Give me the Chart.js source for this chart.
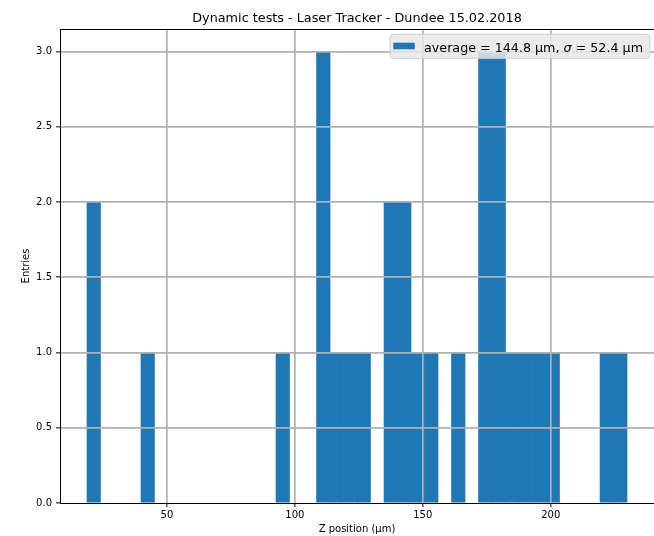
<!DOCTYPE html>
<html>
<head>
<meta charset="utf-8">
<script src="https://cdn.jsdelivr.net/npm/chart.js@4/dist/chart.umd.min.js"></script>
<style>
  html, body { margin: 0; padding: 0; background: #fff; }
  #wrap { width: 654px; height: 536px; position: relative; }
</style>
</head>
<body>
<div id="wrap"><canvas id="c"></canvas></div>
<script>
// Histogram bin centres (Z position, µm) and entries per bin
const binCenters = [21.41, 26.68, 31.96, 37.24, 42.51, 47.79, 53.07, 58.34, 63.62, 68.89,
                    74.17, 79.45, 84.72, 90.00, 95.27, 100.55, 105.83, 111.10, 116.38, 121.65,
                    126.93, 132.21, 137.48, 142.76, 148.03, 153.31, 158.59, 163.86, 169.14, 174.41,
                    179.69, 184.97, 190.24, 195.52, 200.79, 206.07, 211.35, 216.62, 221.90, 227.17];
const counts = [2, 0, 0, 0, 1, 0, 0, 0, 0, 0,
                0, 0, 0, 0, 1, 0, 0, 3, 1, 1,
                1, 0, 2, 2, 1, 1, 0, 1, 0, 3,
                3, 1, 1, 1, 1, 0, 0, 0, 1, 1];
const xTicks = [50, 100, 150, 200];
const yTicks = [0, 0.5, 1.0, 1.5, 2.0, 2.5, 3.0];
const xRange = [8.22, 240.35];
const yRange = [0, 3.15];
const seriesLabel = 'average = 144.8 µm, σ = 52.4 µm';
const titleText = 'Dynamic tests - Laser Tracker - Dundee 15.02.2018';
const xTitle = 'Z position (µm)';
const yTitle = 'Entries';

Chart.defaults.font.family = "'DejaVu Sans', sans-serif";
Chart.defaults.color = '#000';

const BAR_COLOR = '#1f77b4';
const GRID_COLOR = '#b0b0b0';

const insideLegend = {
  id: 'insideLegend',
  afterDraw(chart) {
    const ctx = chart.ctx;
    const area = chart.chartArea;
    const label = chart.data.datasets[0].label;
    const size = 12.7;
    const normal = size + "px 'DejaVu Sans', sans-serif";
    const italic = 'italic ' + size + "px 'DejaVu Sans', sans-serif";
    const idx = label.indexOf('σ');
    const parts = [[label.slice(0, idx), normal], ['σ', italic], [label.slice(idx + 1), normal]];
    ctx.save();
    let tw = 0;
    parts.forEach(p => { ctx.font = p[1]; tw += ctx.measureText(p[0]).width; });
    const padL = 3.3, patchW = 21.4, gap = 9.3, padR = 7;
    const w = padL + patchW + gap + tw + padR;
    const h = 24;
    const right = area.right - 4;
    const left = right - w;
    const top = area.top + 5.3;
    ctx.beginPath();
    if (ctx.roundRect) ctx.roundRect(left, top, w, h, 3); else ctx.rect(left, top, w, h);
    ctx.fillStyle = 'rgba(232,232,232,0.85)';
    ctx.fill();
    ctx.lineWidth = 1;
    ctx.strokeStyle = '#cfcfcf';
    ctx.stroke();
    ctx.fillStyle = BAR_COLOR;
    ctx.fillRect(left + padL, top + 8.4, patchW, 6.6);
    ctx.fillStyle = '#000';
    ctx.textBaseline = 'alphabetic';
    ctx.textAlign = 'left';
    let x = left + padL + patchW + gap;
    const base = top + 17.4;
    parts.forEach(p => {
      ctx.font = p[1];
      ctx.fillText(p[0], x, base);
      x += ctx.measureText(p[0]).width;
    });
    ctx.restore();
  }
};

new Chart(document.getElementById('c'), {
  type: 'bar',
  data: {
    datasets: [{
      label: seriesLabel,
      data: binCenters.map((c, i) => ({ x: c, y: counts[i] })),
      backgroundColor: ctx => (ctx.raw && ctx.raw.y > 0) ? BAR_COLOR : 'rgba(0,0,0,0)',
      borderWidth: 0,
      barPercentage: 1.0,
      categoryPercentage: 1.0
    }]
  },
  options: {
    responsive: true,
    maintainAspectRatio: false,
    animation: false,
    devicePixelRatio: 1,
    layout: { padding: 0 },
    plugins: {
      legend: { display: false },
      tooltip: { enabled: false },
      title: {
        display: true,
        fullSize: false,
        text: titleText,
        color: '#000',
        font: { size: 12.8, weight: 'normal' },
        padding: { top: 10.5, bottom: 3.14 }
      }
    },
    scales: {
      x: {
        type: 'linear',
        position: 'bottom',
        min: xRange[0],
        max: xRange[1],
        offset: false,
        afterBuildTicks: s => { s.ticks = xTicks.map(v => ({ value: v })); },
        afterFit: s => { s.height = 33; },
        ticks: {
          font: { size: 10 },
          padding: 2,
          maxRotation: 0,
          autoSkip: false,
          callback: v => String(v)
        },
        grid: {
          offset: false,
          color: GRID_COLOR,
          lineWidth: 1.7,
          z: 1,
          drawTicks: true,
          tickLength: 4,
          tickColor: '#000',
          tickWidth: 1
        },
        border: { display: true, color: '#000', width: 1, z: 2 },
        title: {
          display: true,
          text: xTitle,
          font: { size: 10 },
          padding: { top: 0, bottom: 1 }
        }
      },
      x2: {
        type: 'linear',
        position: 'top',
        min: xRange[0],
        max: xRange[1],
        afterFit: s => { s.height = 0; },
        ticks: { display: false },
        grid: { display: false, drawTicks: false },
        border: { display: true, color: '#000', width: 1, z: 2 }
      },
      y: {
        type: 'linear',
        position: 'left',
        min: yRange[0],
        max: yRange[1],
        afterBuildTicks: s => { s.ticks = yTicks.map(v => ({ value: v })); },
        afterFit: s => { s.width = 60; },
        ticks: {
          font: { size: 10 },
          padding: 4,
          autoSkip: false,
          callback: v => Number(v).toFixed(1)
        },
        grid: {
          color: ctx => (ctx.tick && ctx.tick.value === 0) ? 'rgba(0,0,0,0)' : GRID_COLOR,
          lineWidth: 1.7,
          z: 1,
          drawTicks: true,
          tickLength: 4,
          tickColor: '#000',
          tickWidth: 1
        },
        border: { display: true, color: '#000', width: 1, z: 2 },
        title: {
          display: true,
          text: yTitle,
          font: { size: 10 },
          padding: { top: 20, bottom: 0 }
        }
      }
    }
  },
  plugins: [insideLegend]
});
</script>
</body>
</html>
